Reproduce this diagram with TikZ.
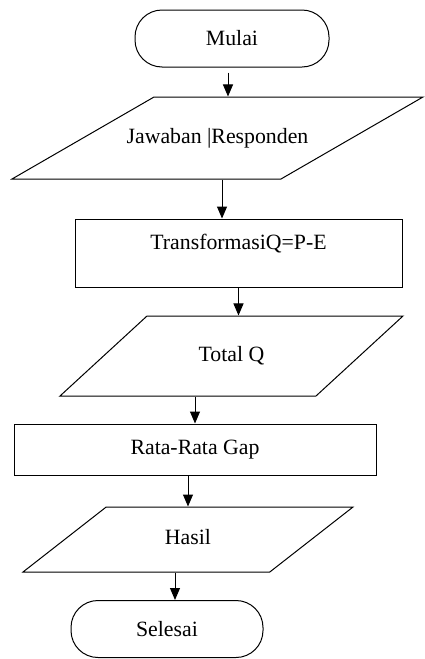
\documentclass[tikz,border=0pt]{standalone}
\usepackage{fontspec}
\setmainfont{Liberation Serif}
\usetikzlibrary{shapes.geometric}
\usetikzlibrary{arrows.meta}

\begin{document}
\begin{tikzpicture}[x=1pt,y=-1pt,
  font=\fontsize{21.8}{26}\selectfont,
  terminal/.style={draw,line width=1pt,rectangle,rounded corners=27pt,minimum width=#1,minimum height=57pt,inner sep=0pt},
  process/.style={draw,line width=1pt,rectangle,inner sep=0pt},
  io/.style={draw,line width=1pt,trapezium,trapezium stretches body,text height=15pt,text depth=5pt,inner xsep=0pt,inner ysep=#1},
  arrow/.style={line width=1pt,-{Triangle[width=10pt,length=12pt]}}]
\useasboundingbox (0,0) rectangle (424,659);

\node[terminal=194pt] (mulai) at (232,38.5) {Mulai};
\node[io=31pt,inner xsep=-27.5pt,trapezium left angle=30,trapezium right angle=150,minimum width=411pt] (jawaban) at (217.5,138) {Jawaban |Responden};
\node[process,minimum width=327pt,minimum height=68pt,text depth=22pt] (transformasi) at (238.5,253) {TransformasiQ=P-E};
\node[io=30pt,trapezium left angle=42.6,trapezium right angle=137.4,minimum width=343pt] (totalq) at (231.5,356) {Total Q};
\node[process,minimum width=362pt,minimum height=51pt] (rata) at (195,449.5) {Rata-Rata Gap};
\node[io=22.5pt,trapezium left angle=38,trapezium right angle=142,minimum width=330pt] (hasil) at (188,539.5) {Hasil};
\node[terminal=192pt] (selesai) at (167,629) {Selesai};

\draw[arrow,shorten <=5pt] ([xshift=-4pt]mulai.south) -- ([xshift=-4pt]mulai.south |- jawaban.north);
\draw[arrow] ([xshift=4.5pt]jawaban.south) -- ([xshift=4.5pt]jawaban.south |- transformasi.north);
\draw[arrow] (transformasi.south) -- (transformasi.south |- totalq.north);
\draw[arrow] (rata.north |- totalq.south) -- (rata.north);
\draw[arrow] (hasil.north |- rata.south) -- (hasil.north);
\draw[arrow] ([xshift=8pt]selesai.north |- hasil.south) -- ([xshift=8pt]selesai.north);

\end{tikzpicture}
\end{document}
